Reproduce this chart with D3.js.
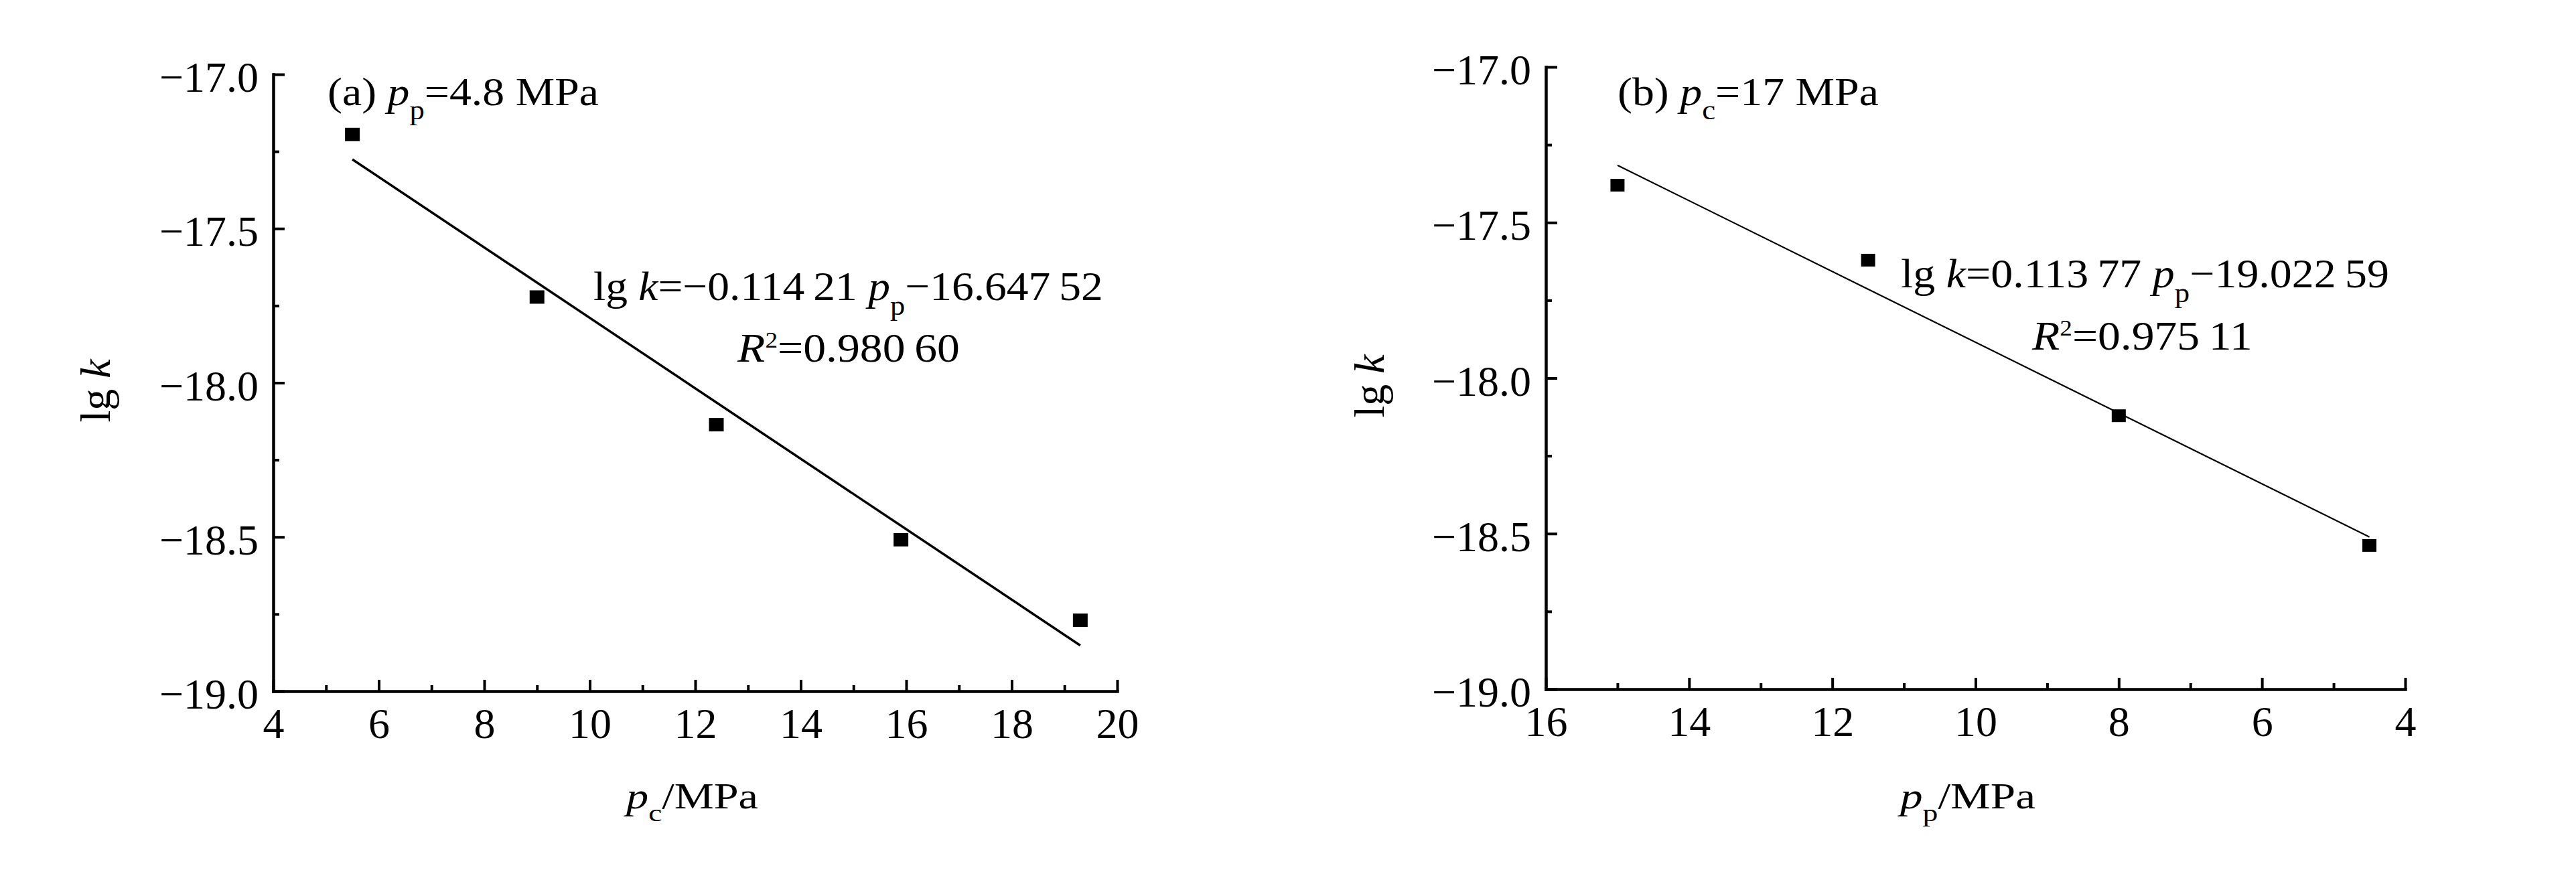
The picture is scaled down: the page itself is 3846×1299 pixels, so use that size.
<!DOCTYPE html>
<html><head><meta charset="utf-8">
<script src="https://cdn.jsdelivr.net/npm/d3@7"></script>
<style>
body{margin:0;background:#fff}
svg{display:block}
text{font-family:"Liberation Serif","Times New Roman",serif;fill:#000}
</style>
</head><body>
<svg id="chart" width="3846" height="1299"></svg>
<script>
// ---------------- data ----------------
// (a) p_p = 4.8 MPa : lg k versus p_c
const pcA = [5.5, 9.0, 12.4, 15.9, 19.3];
const lgkA = [-17.195, -17.722, -18.136, -18.509, -18.770];
const slopeA = -0.11421, interceptA = -16.64752;
const fitRangeA = [5.5, 19.3];
// (b) p_c = 17 MPa : lg k versus p_p
const ppB = [15.0, 11.5, 8.0, 4.5];
const lgkB = [-17.380, -17.621, -18.121, -18.538];
const slopeB = 0.11377, interceptB = -19.02259;
const fitRangeB = [15.0, 4.5];
// ticks
const yTicks = [-17.0, -17.5, -18.0, -18.5, -19.0];
const yMinor = [-17.25, -17.75, -18.25, -18.75];
const xTicksA = [4, 6, 8, 10, 12, 14, 16, 18, 20];
const xMinorA = [5, 7, 9, 11, 13, 15, 17, 19];
const xTicksB = [16, 14, 12, 10, 8, 6, 4];
const xMinorB = [15, 13, 11, 9, 7, 5];
// texts
const annA = [{t:"(a) "},{t:"p",i:1},{t:"p",sub:1},{t:"=4.8 MPa"}];
const annB = [{t:"(b) "},{t:"p",i:1},{t:"c",sub:1},{t:"=17 MPa"}];
const eqA = [{t:"lg "},{t:"k",i:1},{t:"=−0.114\u200921 "},{t:"p",i:1},{t:"p",sub:1},{t:"−16.647\u200952"}];
const r2A = [{t:"R",i:1},{t:"2",sup:1},{t:"=0.980\u200960"}];
const eqB = [{t:"lg "},{t:"k",i:1},{t:"=0.113\u200977 "},{t:"p",i:1},{t:"p",sub:1},{t:"−19.022\u200959"}];
const r2B = [{t:"R",i:1},{t:"2",sup:1},{t:"=0.975\u200911"}];
const xLabA = [{t:"p",i:1},{t:"c",sub:1},{t:"/MPa"}];
const xLabB = [{t:"p",i:1},{t:"p",sub:1},{t:"/MPa"}];
const yLab = [{t:"lg "},{t:"k",i:1}];

// ---------------- drawing ----------------
const svg = d3.select("#chart");
svg.append("rect").attr("width",3846).attr("height",1299).attr("fill","#fff");

function richText(g, parts, size) {
  const t = g.append("text").attr("font-size", size);
  let shift = 0;
  parts.forEach(p => {
    const ts = t.append("tspan").text(p.t);
    let target = 0, fs = size;
    if (p.sub) { target = 0.36 * size; fs = 0.68 * size; }
    if (p.sup) { target = -0.34 * size; fs = 0.55 * size; }
    ts.attr("font-size", fs);
    if (target !== shift) { ts.attr("dy", target - shift); shift = target; }
    if (p.i) ts.attr("font-style", "italic");
  });
  return t;
}
function placeText(parts, size, x, y, width) {
  const t = richText(svg, parts, size);
  const w = t.node().getBBox().width;
  t.attr("transform", `translate(${x},${y}) scale(${width / w},1)`);
  return t;
}

function panel(cfg) {
  const x = d3.scaleLinear().domain(cfg.xDomain).range(cfg.xRange);
  const y = d3.scaleLinear().domain([-17, -19]).range(cfg.yRange);
  const g = svg.append("g");
  const bottom = cfg.yRange[1], left = cfg.xRange[0];

  // minor ticks
  g.append("g").attr("transform", `translate(0,${bottom})`)
    .call(d3.axisBottom(x).tickValues(cfg.xMinor).tickSize(-9).tickSizeOuter(0).tickFormat(""))
    .call(a => a.select(".domain").remove());
  g.append("g").attr("transform", `translate(${left},0)`)
    .call(d3.axisLeft(y).tickValues(yMinor).tickSize(-9).tickSizeOuter(0).tickFormat(""))
    .call(a => a.select(".domain").remove());

  // major axes
  const ax = g.append("g").attr("transform", `translate(0,${bottom})`)
    .call(d3.axisBottom(x).tickValues(cfg.xTicks).tickSize(-17).tickSizeOuter(0).tickPadding(25).tickFormat(d3.format("d")));
  const ay = g.append("g").attr("transform", `translate(${left},0)`)
    .call(d3.axisLeft(y).tickValues(yTicks).tickSize(-17).tickSizeOuter(0).tickPadding(22).tickFormat(d3.format(".1f")));
  [ax, ay].forEach(a => {
    a.attr("font-family", null).attr("font-size", null);
    a.selectAll("text").attr("font-size", 64).style("font-family", '"Liberation Serif","Times New Roman",serif');
  });
  ay.selectAll("text").attr("dy", "0.40em");
  g.selectAll(".tick line").attr("stroke", "#000").attr("stroke-width", 4);
  g.selectAll(".domain").attr("stroke", "#000").attr("stroke-width", 4.5).attr("stroke-linecap", "square");

  // fit line
  g.append("line")
    .attr("x1", x(cfg.fitRange[0])).attr("y1", y(cfg.slope * cfg.fitRange[0] + cfg.intercept))
    .attr("x2", x(cfg.fitRange[1])).attr("y2", y(cfg.slope * cfg.fitRange[1] + cfg.intercept))
    .attr("stroke", "#000").attr("stroke-width", cfg.lineW);

  // markers
  g.selectAll("rect.m").data(cfg.xs.map((v, i) => [v, cfg.ys[i]])).enter()
    .append("rect").attr("class", "m")
    .attr("x", d => x(d[0]) - cfg.mw / 2).attr("y", d => y(d[1]) - cfg.mh / 2)
    .attr("width", cfg.mw).attr("height", cfg.mh).attr("fill", "#000");

  // y label
  const yl = richText(svg, yLab, 64).attr("text-anchor", "middle")
    .attr("transform", `translate(${cfg.yLabX},${(cfg.yRange[0] + cfg.yRange[1]) / 2 + 12}) rotate(-90)`);
}

panel({xDomain:[4,20], xRange:[408,1668], yRange:[111,1032], xTicks:xTicksA, xMinor:xMinorA,
       xs:pcA, ys:lgkA, slope:slopeA, intercept:interceptA, fitRange:fitRangeA, lineW:3.5,
       mw:22, mh:20, yLabX:164});
panel({xDomain:[16,4], xRange:[2308,3591], yRange:[100,1029], xTicks:xTicksB, xMinor:xMinorB,
       xs:ppB, ys:lgkB, slope:slopeB, intercept:interceptB, fitRange:fitRangeB, lineW:2.2,
       mw:21, mh:19, yLabX:2066});

// annotations (left x, baseline y, width)
placeText(annA, 59, 489, 157, 405);
placeText(eqA, 61, 886, 448, 761);
placeText(r2A, 62, 1101, 540, 333);
placeText(xLabA, 54, 935, 1207, 202);

placeText(annB, 59, 2415, 157, 390);
placeText(eqB, 61, 2838, 429, 729);
placeText(r2B, 62, 3034, 522, 330);
placeText(xLabB, 54, 2837, 1207, 207);
</script>
</body></html>
